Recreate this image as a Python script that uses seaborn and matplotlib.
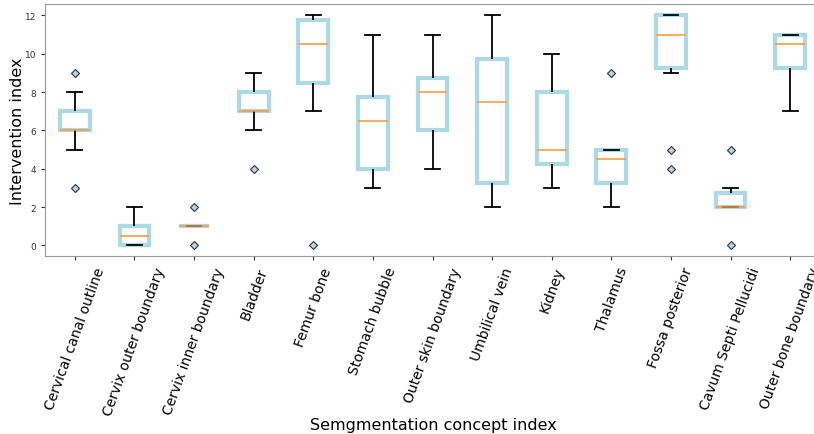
import numpy as np
import pandas as pd
import matplotlib
matplotlib.use("Agg")
import matplotlib.pyplot as plt
import seaborn as sns

categories = [
    "Cervical canal outline", "Cervix outer boundary", "Cervix inner boundary",
    "Bladder", "Femur bone", "Stomach bubble", "Outer skin boundary",
    "Umbilical vein", "Kidney", "Thalamus", "Fossa posterior",
    "Cavum Septi Pellucidi", "Outer bone boundary",
]

cervical_canal = [3, 5, 6, 6, 6, 7, 7, 8, 9]
cervix_outer = [0, 0, 0, 1, 1, 2]
cervix_inner = [0, 1, 1, 1, 1, 1, 2]
bladder = [4, 6, 7, 7, 7, 8, 8, 8, 9]
femur = [0, 7, 8, 10, 10, 11, 11, 12, 12, 12]
stomach = [3, 3, 4, 4, 6, 7, 7, 8, 10, 11]
outer_skin = [4, 5, 6, 6, 8, 8, 8, 9, 10, 11]
umbilical = [2, 3, 3, 4, 7, 8, 9, 10, 11, 12]
kidney = [3, 4, 4, 5, 5, 5, 8, 8, 9, 10]
thalamus = [2, 3, 3, 4, 4, 5, 5, 5, 5, 9]
fossa = [4, 5, 9, 10, 11, 11, 12, 12, 12, 12]
cavum = [0, 2, 2, 2, 2, 2, 2, 3, 3, 5]
outer_bone = [7, 8, 9, 10, 10, 11, 11, 11, 11, 11]

series = [cervical_canal, cervix_outer, cervix_inner, bladder, femur, stomach,
          outer_skin, umbilical, kidney, thalamus, fossa, cavum, outer_bone]

rows = []
for cat, vals in zip(categories, series):
    for v in vals:
        rows.append({"concept": cat, "value": v})
df = pd.DataFrame(rows)

W, H = 814, 435
fig = plt.figure(figsize=(W / 100, H / 100), dpi=100)
ax = fig.add_axes([45 / W, (H - 257) / H, 775 / W, 252 / H])

sns.boxplot(
    data=df, x="concept", y="value", order=categories, ax=ax,
    width=0.5, whis=1.5,
    boxprops=dict(facecolor="white", edgecolor="lightblue", linewidth=3),
    whiskerprops=dict(color="black", linewidth=1.3),
    capprops=dict(color="black", linewidth=1.3, zorder=3),
    medianprops=dict(color="#ff9535", linewidth=1.1, zorder=6),
    flierprops=dict(marker="D", markerfacecolor="lightblue",
                    markeredgecolor="#333333", markersize=4.5,
                    markeredgewidth=0.8),
)

ax.set_xlim(-0.5, 12.5)
ax.set_ylim(-0.55, 12.6)
ax.set_yticks([0, 2, 4, 6, 8, 10, 12])
ax.tick_params(axis="y", labelsize=6.5, colors="#333333", length=3)
ax.tick_params(axis="x", labelsize=10, length=3, colors="#333333")
for lab in ax.get_xticklabels():
    lab.set_rotation(70)
    lab.set_ha("center")
    lab.set_color("black")
ax.set_xlabel("Semgmentation concept index", fontsize=11.5)
ax.set_ylabel("Intervention index", fontsize=11.5)
ax.yaxis.set_label_coords(-0.026, 0.5)
ax.xaxis.set_label_coords((433 - 45) / 775, -0.64)
for s in ax.spines.values():
    s.set_color("#999999")

fig.savefig("out.png", dpi=100)
